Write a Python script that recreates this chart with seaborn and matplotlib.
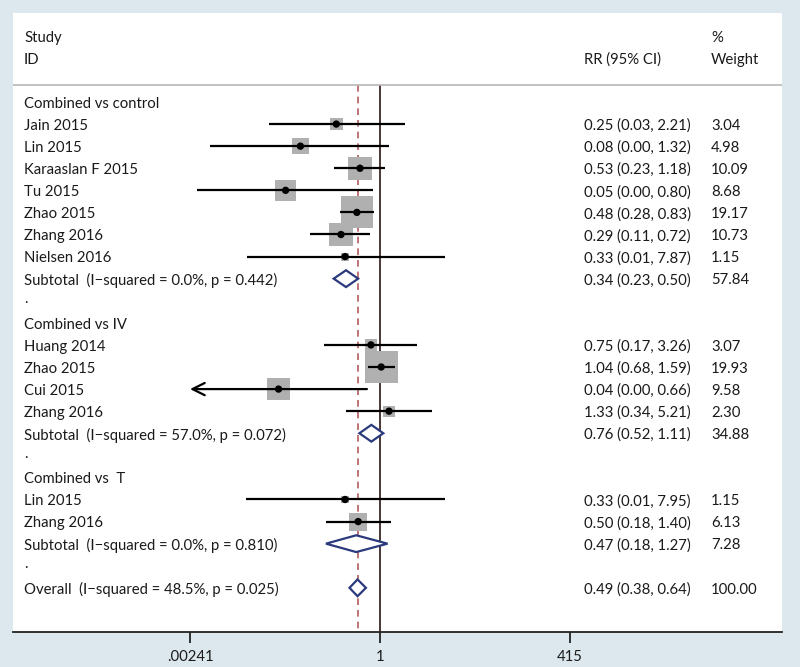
import matplotlib
matplotlib.use("Agg")
import matplotlib.pyplot as plt
import seaborn as sns
import numpy as np

# study level data (RR, 95% CI, % weight)
group_names = ["Combined vs control", "Combined vs IV", "Combined vs  T"]
study_ids = ["Jain 2015", "Lin 2015", "Karaaslan F 2015", "Tu 2015", "Zhao 2015",
             "Zhang 2016", "Nielsen 2016",
             "Huang 2014", "Zhao 2015", "Cui 2015", "Zhang 2016",
             "Lin 2015", "Zhang 2016"]
study_group = [0, 0, 0, 0, 0, 0, 0, 1, 1, 1, 1, 2, 2]
rr = [0.25, 0.08, 0.53, 0.05, 0.48, 0.29, 0.33, 0.75, 1.04, 0.04, 1.33, 0.33, 0.50]
ci_low = [0.03, 0.0045, 0.23, 0.0030, 0.28, 0.11, 0.0147, 0.17, 0.68, 0.0020, 0.34, 0.0143, 0.18]
ci_high = [2.21, 1.32, 1.18, 0.80, 0.83, 0.72, 7.87, 3.26, 1.59, 0.66, 5.21, 7.95, 1.40]
weights = [3.04, 4.98, 10.09, 8.68, 19.17, 10.73, 1.15, 3.07, 19.93, 9.58, 2.30, 1.15, 6.13]

# subgroup pooled results
sub_rr = [0.34, 0.76, 0.47]
sub_low = [0.23, 0.52, 0.18]
sub_high = [0.50, 1.11, 1.27]
sub_weight = [57.84, 34.88, 7.28]
sub_i2 = ["0.0%", "57.0%", "0.0%"]
sub_p = ["0.442", "0.072", "0.810"]

# overall pooled result
overall_rr, overall_low, overall_high = 0.49, 0.38, 0.64
overall_weight = 100.00
overall_i2, overall_p = "48.5%", "0.025"

tick_vals = [0.00241, 1, 415]
tick_labels = [".00241", "1", "415"]

# ---------------------------------------------------------------
sns.set_theme(style="white")
plt.rcParams["font.family"] = ["Lato", "DejaVu Sans"]

bg = "#dde8ee"
txt = "#1a1a1a"
fs = 10.7

fig = plt.figure(figsize=(8, 6.67), dpi=100)
fig.patch.set_facecolor(bg)
ax = fig.add_axes([13 / 800, 35 / 667, 769 / 800, 619 / 667])
ax.set_facecolor("white")
ax.set_xscale("log")
ax.set_xlim(8.77e-6, 3.46e5)
ax.set_ylim(24, -4.03)

lo_lim, hi_lim = tick_vals[0], tick_vals[-1]
xt = ax.get_yaxis_transform()  # x in axes fraction, y in data
col_id, col_rr, col_w = 0.0143, 0.7425, 0.9077

def put(col, row, s):
    ax.text(col, row + 0.08, s, transform=xt, va="center", fontsize=fs, color=txt)

def rr_text(e, l, h):
    return f"{e:.2f} ({l:.2f}, {h:.2f})"

def diamond(row, e, l, h):
    hh = 0.38
    ax.fill([l, e, h, e, l], [row, row - hh, row, row + hh, row],
            facecolor="white", edgecolor="#2b3a7c", linewidth=1.6, zorder=4)

# header
put(col_id, -3, "Study")
put(col_id, -2, "ID")
put(col_rr, -2, "RR (95% CI)")
put(col_w, -3, "%")
put(col_w, -2, "Weight")
ax.axhline(-0.77, color="#b8b8b8", linewidth=1.2)

row = 0
box_x, box_y, box_s = [], [], []
for g, gname in enumerate(group_names):
    put(col_id, row, gname)
    row += 1
    for i in [k for k, sg in enumerate(study_group) if sg == g]:
        put(col_id, row, study_ids[i])
        put(col_rr, row, rr_text(rr[i], ci_low[i], ci_high[i]))
        put(col_w, row, f"{weights[i]:.2f}")
        l = max(ci_low[i], lo_lim)
        h = min(ci_high[i], hi_lim)
        if ci_low[i] < lo_lim:
            ax.annotate("", xy=(lo_lim, row), xytext=(h, row),
                        arrowprops=dict(arrowstyle="->", color="black", lw=1.6,
                                        mutation_scale=22, shrinkA=0, shrinkB=0),
                        zorder=3)
        else:
            ax.hlines(row, l, h, color="black", linewidth=1.6, zorder=3)
        box_x.append(rr[i])
        box_y.append(row)
        box_s.append(weights[i] * 27.7)
        row += 1
    put(col_id, row, f"Subtotal  (I\u2212squared = {sub_i2[g]}, p = {sub_p[g]})")
    put(col_rr, row, rr_text(sub_rr[g], sub_low[g], sub_high[g]))
    put(col_w, row, f"{sub_weight[g]:.2f}")
    diamond(row, sub_rr[g], sub_low[g], sub_high[g])
    row += 1
    put(col_id, row - 0.15, ".")
    row += 1

put(col_id, row, f"Overall  (I\u2212squared = {overall_i2}, p = {overall_p})")
put(col_rr, row, rr_text(overall_rr, overall_low, overall_high))
put(col_w, row, f"{overall_weight:.2f}")
diamond(row, overall_rr, overall_low, overall_high)

# weighted boxes and point estimates
sns.scatterplot(x=box_x, y=box_y, s=box_s, marker="s", color="#b0b0b0",
                edgecolor="none", ax=ax, zorder=2, legend=False)
sns.scatterplot(x=box_x, y=box_y, s=28, color="black", edgecolor="none",
                ax=ax, zorder=5, legend=False)

# reference lines
ax.vlines(1, -0.77, 24, color="#3b2626", linewidth=1.3, zorder=1)
ax.vlines(overall_rr, -0.77, 24, color="#b35c5c", linewidth=1.2,
          linestyles=(0, (4, 3)), zorder=1)

for s in ["top", "left", "right"]:
    ax.spines[s].set_visible(False)
ax.spines["bottom"].set_color("#222222")
ax.spines["bottom"].set_linewidth(1.3)
ax.set_yticks([])
ax.set_xticks(tick_vals)
ax.set_xticklabels(tick_labels)
ax.xaxis.set_minor_locator(matplotlib.ticker.NullLocator())
ax.tick_params(axis="x", direction="out", length=8, width=1.3, color="#222222",
               labelsize=fs, labelcolor=txt, pad=5, bottom=True)

fig.savefig("out.png", dpi=100, facecolor=bg)
